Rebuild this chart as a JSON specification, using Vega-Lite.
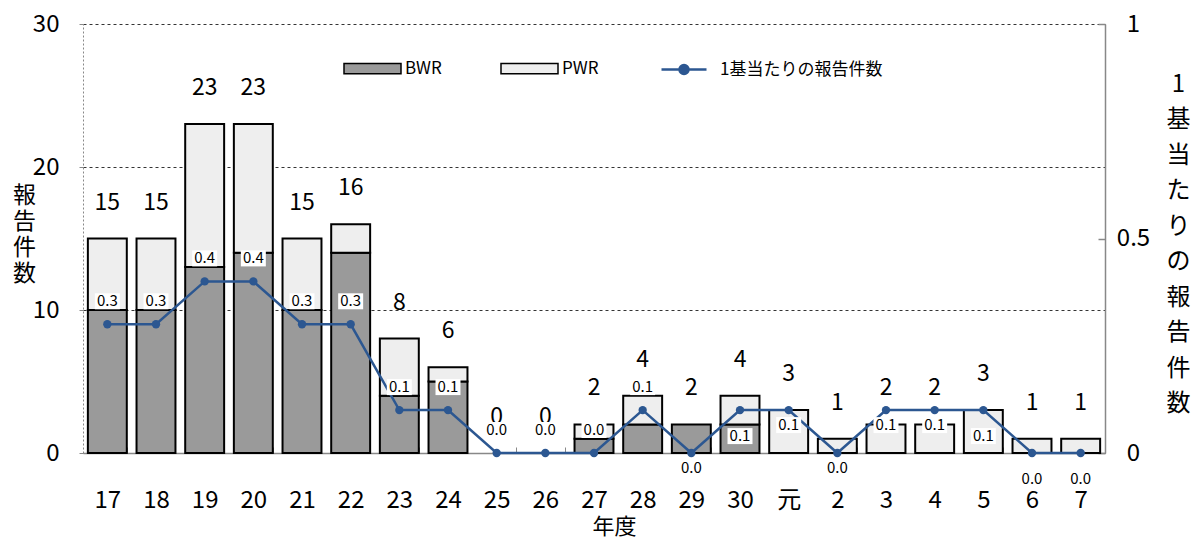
{
  "$schema": "https://vega.github.io/schema/vega-lite/v6.json",
  "width": 1022,
  "height": 429,
  "autosize": {"type": "none"},
  "padding": {"left": 83, "top": 24, "right": 91, "bottom": 90},
  "background": "white",
  "config": {
    "font": "Noto Sans CJK JP",
    "view": {"stroke": null},
    "axis": {"labelColor": "#000", "titleColor": "#000", "titleFontWeight": "normal", "labelFont": "Noto Sans CJK JP", "titleFont": "Noto Sans CJK JP"},
    "legend": {"labelFont": "Noto Sans CJK JP", "labelColor": "#000", "labelLimit": 400}
  },
  "data": {
    "values": [
      {"year": "17", "BWR": 10, "PWR": 5, "total": 15, "ratio": 0.3},
      {"year": "18", "BWR": 10, "PWR": 5, "total": 15, "ratio": 0.3},
      {"year": "19", "BWR": 13, "PWR": 10, "total": 23, "ratio": 0.4},
      {"year": "20", "BWR": 14, "PWR": 9, "total": 23, "ratio": 0.4},
      {"year": "21", "BWR": 10, "PWR": 5, "total": 15, "ratio": 0.3},
      {"year": "22", "BWR": 14, "PWR": 2, "total": 16, "ratio": 0.3},
      {"year": "23", "BWR": 4, "PWR": 4, "total": 8, "ratio": 0.1},
      {"year": "24", "BWR": 5, "PWR": 1, "total": 6, "ratio": 0.1},
      {"year": "25", "BWR": 0, "PWR": 0, "total": 0, "ratio": 0.0},
      {"year": "26", "BWR": 0, "PWR": 0, "total": 0, "ratio": 0.0},
      {"year": "27", "BWR": 1, "PWR": 1, "total": 2, "ratio": 0.0},
      {"year": "28", "BWR": 2, "PWR": 2, "total": 4, "ratio": 0.1},
      {"year": "29", "BWR": 2, "PWR": 0, "total": 2, "ratio": 0.0},
      {"year": "30", "BWR": 2, "PWR": 2, "total": 4, "ratio": 0.1},
      {"year": "元", "BWR": 0, "PWR": 3, "total": 3, "ratio": 0.1},
      {"year": "2", "BWR": 0, "PWR": 1, "total": 1, "ratio": 0.0},
      {"year": "3", "BWR": 0, "PWR": 2, "total": 2, "ratio": 0.1},
      {"year": "4", "BWR": 0, "PWR": 2, "total": 2, "ratio": 0.1},
      {"year": "5", "BWR": 0, "PWR": 3, "total": 3, "ratio": 0.1},
      {"year": "6", "BWR": 0, "PWR": 1, "total": 1, "ratio": 0.0},
      {"year": "7", "BWR": 0, "PWR": 1, "total": 1, "ratio": 0.0}
    ]
  },
  "encoding": {
    "x": {
      "field": "year",
      "type": "nominal",
      "sort": ["17", "18", "19", "20", "21", "22", "23", "24", "25", "26", "27", "28", "29", "30", "元", "2", "3", "4", "5", "6", "7"],
      "scale": {"paddingInner": 0.2, "paddingOuter": 0.1},
      "axis": {
        "title": "年度",
        "titleFontSize": 22,
        "titleBaseline": "top",
        "titleX": 531,
        "titleY": 63,
        "labelAngle": 0,
        "labelFontSize": 24,
        "labelPadding": 41,
        "labelBaseline": "top",
        "domainColor": "#888",
        "domainWidth": 1.5,
        "tickColor": "#888",
        "tickBand": "extent",
        "tickSize": -6
      }
    }
  },
  "layer": [
    {
      "layer": [
        {
          "transform": [
            {"fold": ["BWR", "PWR"], "as": ["type", "count"]},
            {"filter": "datum.count > 0"}
          ],
          "mark": {"type": "bar", "stroke": "#000", "strokeWidth": 2},
          "encoding": {
            "y": {
              "field": "count",
              "type": "quantitative",
              "stack": "zero",
              "scale": {"domain": [0, 30], "nice": false},
              "axis": {
                "values": [0, 10, 20, 30],
                "title": ["報", "告", "件", "数"],
                "titleAngle": 0,
                "titleAlign": "center",
                "titleBaseline": "top",
                "titleFontSize": 23,
                "titleLineHeight": 26,
                "titleX": -59,
                "titleY": 160,
                "labelFontSize": 24,
                "labelPadding": 20,
                "tickSize": 4,
                "tickColor": "#888",
                "domainColor": "#888",
                "domainDash": [2, 2],
                "grid": true,
                "gridColor": "#000",
                "gridDash": [3, 3],
                "gridWidth": 0.8
              }
            },
            "fill": {
              "field": "type",
              "type": "nominal",
              "scale": {"domain": ["BWR", "PWR"], "range": ["#9a9a9a", "#eeeeee"]},
              "legend": {
                "title": null,
                "orient": "none",
                "direction": "horizontal",
                "legendX": 260,
                "legendY": 15,
                "padding": 0,
                "columnPadding": 56,
                "symbolType": "M-1,-0.18H1V0.18H-1Z",
                "symbolSize": 3249,
                "labelFontSize": 17,
                "labelOffset": 3,
                "encode": {"symbols": {"update": {"stroke": {"value": "#000"}, "strokeWidth": {"value": 1.5}}}}
              }
            },
            "order": {"field": "type", "sort": "ascending"}
          }
        },
        {
          "mark": {"type": "text", "fontSize": 23, "dy": -36, "color": "#000"},
          "encoding": {
            "y": {"field": "total", "type": "quantitative"},
            "text": {"field": "total", "type": "quantitative"}
          }
        }
      ]
    },
    {
      "layer": [
        {
          "mark": {"type": "line", "strokeWidth": 2.5},
          "encoding": {
            "y": {
              "field": "ratio",
              "type": "quantitative",
              "scale": {"domain": [0, 1], "nice": false},
              "axis": {
                "orient": "right",
                "values": [0, 0.5, 1],
                "labelExpr": "'' + datum.value",
                "labelFontSize": 24,
                "labelAlign": "center",
                "labelPadding": 35,
                "tickSize": -7,
                "tickColor": "#888",
                "tickWidth": 1.5,
                "grid": false,
                "domainColor": "#888",
                "domainWidth": 1.5,
                "title": ["1", "基", "当", "た", "り", "の", "報", "告", "件", "数"],
                "titleAngle": 0,
                "titleAlign": "center",
                "titleBaseline": "top",
                "titleFontSize": 24,
                "titleLineHeight": 35.5,
                "titleX": 73,
                "titleY": 48
              }
            },
            "stroke": {
              "datum": "1基当たりの報告件数",
              "type": "nominal",
              "scale": {"range": ["#2c5791"]},
              "legend": {
                "title": null,
                "orient": "none",
                "legendX": 577,
                "legendY": 21.5,
                "padding": 0,
                "symbolType": "M-1,0H1M-0.2,0A0.2,0.2 0 1,0 0.2,0A0.2,0.2 0 1,0 -0.2,0",
                "symbolSize": 2025,
                "symbolStrokeWidth": 2.5,
                "symbolFillColor": "#2c5791",
                "labelFontSize": 17,
                "labelOffset": 12
              }
            }
          }
        },
        {
          "mark": {"type": "point", "filled": true, "size": 70, "color": "#2c5791", "opacity": 1},
          "encoding": {"y": {"field": "ratio", "type": "quantitative"}}
        },
        {
          "transform": [{"filter": {"field": "year", "oneOf": ["17", "18", "19", "20", "21", "22", "23", "24", "25", "26", "27", "28"]}}],
          "mark": {"type": "point", "shape": "M-1.25,-0.8H1.25V0.8H-1.25Z", "size": 400, "filled": true, "color": "white", "opacity": 1, "yOffset": -23},
          "encoding": {"y": {"field": "ratio", "type": "quantitative"}}
        },
        {
          "transform": [{"filter": {"field": "year", "oneOf": ["17", "18", "19", "20", "21", "22", "23", "24", "25", "26", "27", "28"]}}],
          "mark": {"type": "text", "fontSize": 15, "dy": -23, "color": "#000"},
          "encoding": {
            "y": {"field": "ratio", "type": "quantitative"},
            "text": {"field": "ratio", "type": "quantitative", "format": ".1f"}
          }
        },
        {
          "transform": [{"filter": {"field": "year", "oneOf": ["29", "元", "2", "3", "4"]}}],
          "mark": {"type": "point", "shape": "M-1.25,-0.8H1.25V0.8H-1.25Z", "size": 400, "filled": true, "color": "white", "opacity": 1, "yOffset": 15},
          "encoding": {"y": {"field": "ratio", "type": "quantitative"}}
        },
        {
          "transform": [{"filter": {"field": "year", "oneOf": ["29", "元", "2", "3", "4"]}}],
          "mark": {"type": "text", "fontSize": 15, "dy": 15, "color": "#000"},
          "encoding": {
            "y": {"field": "ratio", "type": "quantitative"},
            "text": {"field": "ratio", "type": "quantitative", "format": ".1f"}
          }
        },
        {
          "transform": [{"filter": {"field": "year", "oneOf": ["30", "5", "6", "7"]}}],
          "mark": {"type": "point", "shape": "M-1.25,-0.8H1.25V0.8H-1.25Z", "size": 400, "filled": true, "color": "white", "opacity": 1, "yOffset": 26},
          "encoding": {"y": {"field": "ratio", "type": "quantitative"}}
        },
        {
          "transform": [{"filter": {"field": "year", "oneOf": ["30", "5", "6", "7"]}}],
          "mark": {"type": "text", "fontSize": 15, "dy": 26, "color": "#000"},
          "encoding": {
            "y": {"field": "ratio", "type": "quantitative"},
            "text": {"field": "ratio", "type": "quantitative", "format": ".1f"}
          }
        }
      ]
    }
  ],
  "resolve": {"scale": {"y": "independent"}}
}
